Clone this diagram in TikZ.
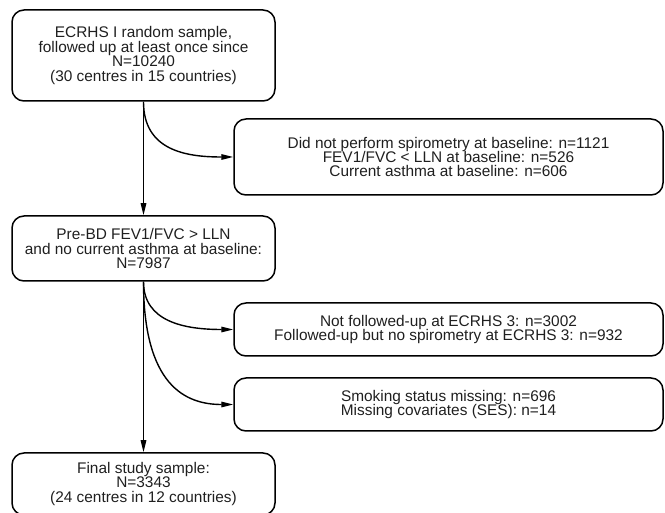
\documentclass[tikz,border=0pt]{standalone}
\usepackage{fontspec}
\setmainfont{Liberation Sans}
\usetikzlibrary{arrows.meta}
\begin{document}
\begin{tikzpicture}[x=1pt,y=-1pt,
  box/.style={draw, line width=1.5pt, rounded corners=12pt, align=center, inner sep=0pt,
    font=\fontsize{15.4}{14.4}\selectfont, text=black!88},
  leftbox/.style={box, minimum width=263pt},
  rightbox/.style={box, minimum width=429pt},
  arr/.style={line width=1.4pt, -{Triangle[length=12pt,width=5.5pt]}}]
\useasboundingbox (0,0) rectangle (665,513);
\node[leftbox, minimum height=91pt] (b1) at (143.5,55.5)
  {ECRHS I random sample,\\followed up at least once since\\N=10240\\(30 centres in 15 countries)};
\node[rightbox, minimum height=76pt] (b2) at (448.5,157)
  {Did not perform spirometry at baseline: n=1121\\FEV1/FVC < LLN at baseline: n=526\\Current asthma at baseline: n=606};
\node[leftbox, minimum height=65pt] (b3) at (143.5,248.5)
  {Pre-BD FEV1/FVC > LLN\\and no current asthma at baseline:\\N=7987};
\node[rightbox, minimum height=53pt] (b4) at (448.5,329.5)
  {Not followed-up at ECRHS 3: n=3002\\Followed-up but no spirometry at ECRHS 3: n=932};
\node[rightbox, minimum height=53pt] (b5) at (448.5,404.5)
  {Smoking status missing: n=696\\Missing covariates (SES): n=14};
\node[leftbox, minimum height=62pt] (b6) at (143.5,484)
  {Final study sample:\\N=3343\\(24 centres in 12 countries)};
\draw[arr] (b1.south) -- (b3.north);
\draw[arr] (b3.south) -- (b6.north);
\draw[arr] (b1.south) .. controls (143.5,150) and (185,157) .. (b2.west);
\draw[arr] (b3.south) .. controls (143.5,322) and (185,329.5) .. (b4.west);
\draw[arr] (b3.south) .. controls (143.5,385) and (185,404.5) .. (b5.west);
\end{tikzpicture}
\end{document}
